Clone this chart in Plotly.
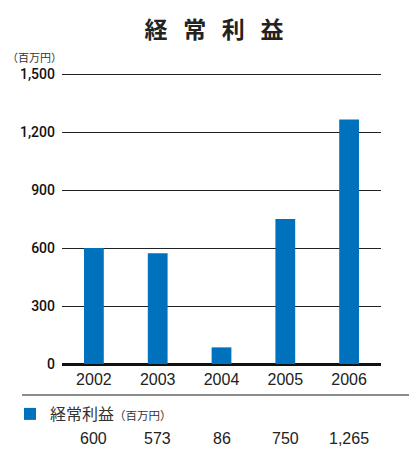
import plotly.graph_objects as go

years = ["2002", "2003", "2004", "2005", "2006"]
values = [600, 573, 86, 750, 1265]
value_labels = ["600", "573", "86", "750", "1,265"]
y_ticks = [0, 300, 600, 900, 1200, 1500]
y_tick_labels = ["0", "300", "600", "900", "1,200", "1,500"]

W, H = 409, 451
L, R, T, B = 62, 28, 70, 87
pw, ph = W - L - R, H - T - B

def px_x(x):
    return (x - L) / pw

def px_y(y):
    return (H - B - y) / ph

fig = go.Figure()
fig.add_trace(go.Bar(
    x=years, y=values, width=0.31,
    marker=dict(color="#0071bc", line=dict(width=0)),
    name="経常利益<span style='font-size:11.5px'>（百万円）</span>",
    showlegend=True,
))

font = "Liberation Sans, Arial, Noto Sans CJK JP, sans-serif"
cjk = "Noto Sans CJK JP, sans-serif"

for i, lab in enumerate(value_labels):
    fig.add_annotation(x=i, xref="x", y=px_y(438), yref="paper", text=lab,
                       showarrow=False, font=dict(size=16, color="#222", family=font),
                       xanchor="center", yanchor="middle")

fig.add_annotation(x=px_x(5), xref="paper", y=px_y(57), yref="paper", text="（百万円）",
                   showarrow=False, font=dict(size=11, color="#333", family=cjk),
                   xanchor="left", yanchor="middle")

fig.add_shape(type="line", xref="paper", yref="paper",
              x0=px_x(22), x1=px_x(412), y0=px_y(395), y1=px_y(395),
              line=dict(color="#666", width=1.5))

fig.update_layout(
    width=W, height=H,
    margin=dict(l=L, r=R, t=T, b=B, pad=0, autoexpand=False),
    paper_bgcolor="white", plot_bgcolor="white",
    title=dict(text="<b>経&nbsp;&nbsp;&nbsp;常&nbsp;&nbsp;&nbsp;利&nbsp;&nbsp;&nbsp;益</b>",
               x=214 / W, xref="container",
               y=1 - 30 / H, yanchor="middle", xanchor="center",
               font=dict(size=23, color="#222", family=cjk)),
    xaxis=dict(type="category", range=[-0.5, 4.5], autorange=False,
               showgrid=False, showline=False, ticks="",
               tickfont=dict(size=16, color="#222", family=font),
               zeroline=False, ticklabelstandoff=4, automargin=False),
    yaxis=dict(range=[0, 1500 * ph / 290], autorange=False,
               tickvals=y_ticks, ticktext=y_tick_labels,
               showgrid=True, gridcolor="#222", gridwidth=1,
               zeroline=True, zerolinecolor="#111", zerolinewidth=3,
               tickfont=dict(size=14, color="#111", family="Roboto, Liberation Sans, sans-serif", weight=500),
               ticks="", showline=False, ticklabelstandoff=6, automargin=False),
    legend=dict(xref="container", yref="container", x=10 / W, y=1 - 414 / H,
                xanchor="left", yanchor="middle",
                font=dict(size=16, color="#333", family=cjk),
                bgcolor="rgba(0,0,0,0)", itemwidth=30),
    bargap=0.69,
)
fig.write_html("out.html", config={"displayModeBar": False},
               post_script="document.body.style.margin='0';document.body.style.padding='0';")
